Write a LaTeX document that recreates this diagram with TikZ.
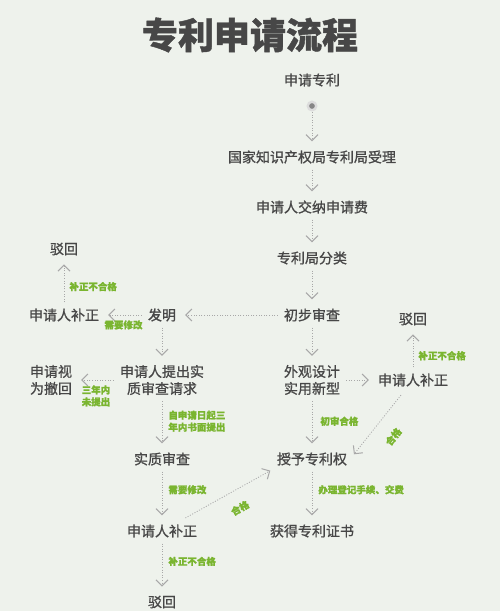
\documentclass[tikz,border=0pt]{standalone}
\usepackage{fontspec}
\newfontfamily\cjk{Noto Sans CJK SC}[FakeBold=1]
\newfontfamily\cjkhead{Noto Sans CJK SC}[FakeBold=1.2]
\usetikzlibrary{arrows.meta,positioning}
\definecolor{bg}{HTML}{EEF2EC}
\definecolor{ink}{HTML}{474747}
\definecolor{leaf}{HTML}{7AB530}
\definecolor{wire}{HTML}{A8A8A8}

\tikzset{
	stepnode/.style={inner sep=3pt, text=ink, align=center, font=\cjk\fontsize{14}{17}\selectfont},
	note/.style={inner sep=1pt, text=leaf, align=left, font=\cjk\bfseries\fontsize{9.5}{12}\selectfont},
	dotnode/.style={circle, fill=wire!80!black, inner sep=2pt, preaction={draw=wire!40, line width=5pt}},
	flow/.style={draw=wire, line width=0.8pt, dash pattern=on 1pt off 1.6pt,
		-{Straight Barb[length=6pt,width=12pt,line width=1pt]}, shorten >=6pt, shorten <=3pt}
}

\begin{document}
\begin{tikzpicture}[x=1pt,y=-1pt,on grid]
			\fill[bg] (0,0) rectangle (500,611);
			\useasboundingbox (0,0) rectangle (500,611);
			\node[text=ink, font=\cjkhead\bfseries\fontsize{36}{40}\selectfont] (title) at (250,35) {专利申请流程};
			% main column
			\node[stepnode] (apply) at (312,80) {申请专利};
			\node[dotnode] (start) [below=26pt of apply] {};
			\node[stepnode] (accept) [below=51pt of start] {国家知识产权局专利局受理};
			\node[stepnode] (fee) [below=50pt of accept] {申请人交纳申请费};
			\node[stepnode] (classify) [below=51pt of fee] {专利局分类};
			\node[stepnode] (prelim) [below=57pt of classify] {初步审查};
			\node[stepnode] (design) [below=65pt of prelim] {外观设计\\实用新型};
			\node[stepnode] (grant) [below=79pt of design] {授予专利权};
			\node[stepnode] (cert) [below=72pt of grant] {获得专利证书};
			% invention branch
			\node[stepnode] (invent) [left=150pt of prelim] {发明};
			\node[stepnode] (amend1) [left=98pt of invent] {申请人补正};
			\node[stepnode] (reject1) [above=66pt of amend1] {驳回};
			\node[stepnode] (request) [below=65pt of invent] {申请人提出实\\质审查请求};
			\node[stepnode] (withdraw) [left=111pt of request] {申请视\\为撤回};
			\node[stepnode] (subst) [below=79pt of request] {实质审查};
			\node[stepnode] (amend2) [below=72pt of subst] {申请人补正};
			\node[stepnode] (reject2) [below=71pt of amend2] {驳回};
			% design branch
			\node[stepnode] (amend3) [right=101pt of design] {申请人补正};
			\node[stepnode] (reject3) [above=61pt of amend3] {驳回};
			\path[flow]
			(start) edge (accept)
			(accept) edge (fee)
			(fee) edge (classify)
			(classify) edge (prelim)
			(prelim) edge (invent)
			edge (design)
			(invent) edge node[note, below=4pt] {需要修改} (amend1)
			edge (request)
			(amend1) edge node[note, right=4pt, pos=.4] {补正不合格} (reject1)
			(request) edge node[note, below=4pt, align=center] {三年内\\未提出} (withdraw)
			edge node[note, right=5pt, pos=.45] {自申请日起三\\年内书面提出} (subst)
			(subst) edge node[note, right=5pt, pos=.4] {需要修改} (amend2)
			(amend2) edge node[note, right=5pt, pos=.4] {补正不合格} (reject2)
			edge [shorten <=7pt, shorten >=4pt] node[note, sloped, below=12pt, pos=.55] {合格} (grant.south west)
			(design) edge node[note, right=7pt, pos=.45] {初审合格} (grant)
			edge (amend3)
			(amend3) edge node[note, right=4pt, pos=.35] {补正不合格} (reject3)
			edge [shorten <=7pt] node[note, sloped, below=14pt] {合格} (grant.east);
			\path[flow] (grant) edge node[note, right=5pt, pos=.4] {办理登记手续、交费} (cert);
		\end{tikzpicture}
\end{document}
